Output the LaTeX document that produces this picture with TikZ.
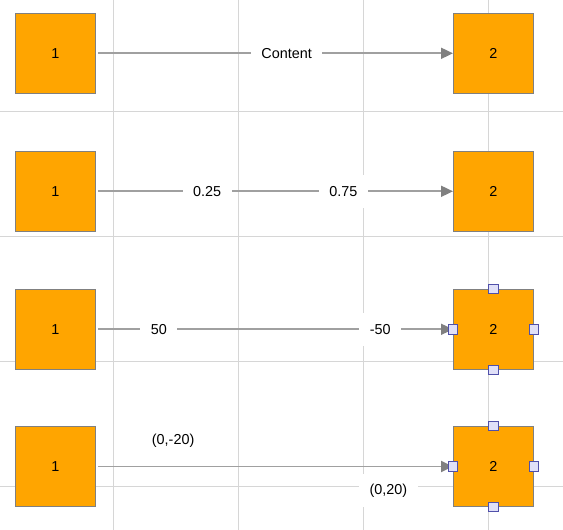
\documentclass[tikz,border=0pt]{standalone}
\usepackage{fontspec}
\setmainfont{Liberation Sans}
\usepackage{tikz}
\usetikzlibrary{positioning, arrows.meta}
\definecolor{dgOrange}{RGB}{255, 165, 0}
\definecolor{dgBorder}{RGB}{128, 128, 128}
\definecolor{dgEdge}{RGB}{160, 160, 160}
\definecolor{dgTip}{RGB}{128, 128, 128}
\definecolor{dgGrid}{RGB}{214, 214, 214}
\definecolor{dgHandle}{RGB}{224, 224, 248}
\definecolor{dgHandleLine}{RGB}{80, 80, 170}
\tikzset{
    base/.style={
        font=\fontsize{14.4}{17}\selectfont,
        align=center
    },
    box/.style={
        base,
        rectangle,
        draw=dgBorder,
        line width=1pt,
        fill=dgOrange,
        minimum size=80pt,
        inner sep=0pt
    },
    link/.style={
        -{Triangle[length=12pt, width=11pt, color=dgTip]},
        line width=1.8pt,
        color=dgEdge,
        shorten <=2pt
    },
    tag/.style={
        base,
        fill=white,
        text=black,
        inner xsep=10.5pt,
        inner ysep=0pt,
        minimum height=33pt
    },
    handle/.style={
        rectangle,
        draw=dgHandleLine,
        line width=1pt,
        fill=dgHandle,
        minimum size=9.5pt,
        inner sep=0pt
    },
    gridline/.style={
        line width=1pt,
        color=dgGrid
    }
}

\begin{document}
\begin{tikzpicture}[x=1pt, y=-1pt]
  \useasboundingbox (0,0) rectangle (563,530);

  % Background grid
  \foreach \gx in {113.5, 238.5, 363.5, 488.5}
    \draw[gridline] (\gx,0) -- (\gx,530);
  \foreach \gy in {111, 236, 361, 486}
    \draw[gridline] (0,\gy) -- (563,\gy);

  % Row 1: one label
  \node[box] (a1) at (55.5,53.3) {1};
  \node[box] (b1) at (493.5,53.3) {2};
  \draw[link] (a1) -- (b1) node[tag, pos=0.534] {Content};

  % Row 2: relative positions
  \node[box] (a2) at (55.5,191.3) {1};
  \node[box] (b2) at (493.5,191.3) {2};
  \draw[link] (a2) -- (b2)
    node[tag, pos=0.3115] {0.25}
    node[tag, pos=0.693] {0.75};

  % Row 3: offsets along the edge
  \node[box] (a3) at (55.5,329.3) {1};
  \node[box] (b3) at (493.5,329.3) {2};
  \draw[link] (a3) -- (b3)
    node[tag, pos=0.176] {50}
    node[tag, pos=0.796] {-50};
  \foreach \side in {north, south, east, west}
    \node[handle] (h3-\side) at (b3.\side) {};

  % Row 4: offsets across the edge
  \node[box] (a4) at (55.5,466.5) {1};
  \node[box] (b4) at (493.5,466.5) {2};
  \draw[link] (a4) -- (b4)
    node[tag, pos=0.216, yshift=25.7pt] {(0,-20)}
    node[tag, pos=0.819, yshift=-24.3pt] {(0,20)};
  \foreach \side in {north, south, east, west}
    \node[handle] (h4-\side) at (b4.\side) {};

\end{tikzpicture}
\end{document}
